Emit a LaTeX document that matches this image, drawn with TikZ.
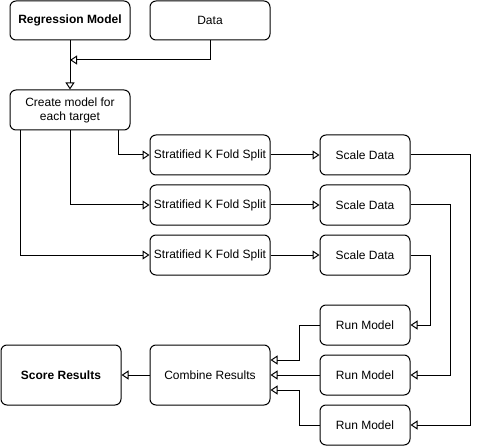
\documentclass[tikz,border=0pt]{standalone}
\usepackage{fontspec}
\setmainfont{Liberation Sans}
\usetikzlibrary{arrows.meta}
\begin{document}
\begin{tikzpicture}[x=1pt,y=-1pt,
  box/.style={draw, rounded corners=6pt, line width=1pt, inner sep=0pt, align=center,
    minimum width=120pt, minimum height=40pt, font=\fontsize{12}{14}\selectfont},
  smallbox/.style={box, minimum width=90pt},
  bigbox/.style={box, minimum height=60pt},
  conn/.style={draw, line width=1pt, -{Triangle[open, length=7pt, width=9pt]}}]
\useasboundingbox (0,0) rectangle (481,446);

\node[box, minimum height=39pt, font=\fontsize{12}{14}\selectfont\bfseries] (reg) at (70,20.5) {Regression Model};
\node[box, minimum height=39pt] (data) at (210,20.5) {Data};
\node[box] (cm) at (70,110) {Create model for\\each target};

\node[box] (sk1) at (210,155) {Stratified K Fold Split};
\node[box] (sk2) at (210,205) {Stratified K Fold Split};
\node[box] (sk3) at (210,255) {Stratified K Fold Split};

\node[smallbox] (sd1) at (365,155) {Scale Data};
\node[smallbox] (sd2) at (365,205) {Scale Data};
\node[smallbox] (sd3) at (365,255) {Scale Data};

\node[smallbox] (rm1) at (365,325) {Run Model};
\node[smallbox] (rm2) at (365,375) {Run Model};
\node[smallbox] (rm3) at (365,425) {Run Model};

\node[bigbox] (comb) at (210,375) {Combine Results};
\node[bigbox, font=\fontsize{12}{14}\selectfont\bfseries] (score) at (61,375) {Score Results};

\coordinate (j) at (70,60);
\draw[conn] (reg.south) -- (cm.north);
\draw[conn] (data.south) |- (j);

\draw[conn] ([xshift=48pt]cm.south) |- (sk1.west);
\draw[conn] (cm.south) |- (sk2.west);
\draw[conn] ([xshift=-50pt]cm.south) |- (sk3.west);

\draw[conn] (sk1.east) -- (sd1.west);
\draw[conn] (sk2.east) -- (sd2.west);
\draw[conn] (sk3.east) -- (sd3.west);

\draw[conn] (sd1.east) -| ([xshift=60pt]rm3.east) -- (rm3.east);
\draw[conn] (sd2.east) -| ([xshift=40pt]rm2.east) -- (rm2.east);
\draw[conn] (sd3.east) -| ([xshift=20pt]rm1.east) -- (rm1.east);

\draw[conn] (rm1.west) -- ++(-20,0) |- ([yshift=15pt]comb.east);
\draw[conn] (rm2.west) -- (comb.east);
\draw[conn] (rm3.west) -- ++(-20,0) |- ([yshift=-15pt]comb.east);

\draw[conn] (comb.west) -- (score.east);
\end{tikzpicture}
\end{document}
